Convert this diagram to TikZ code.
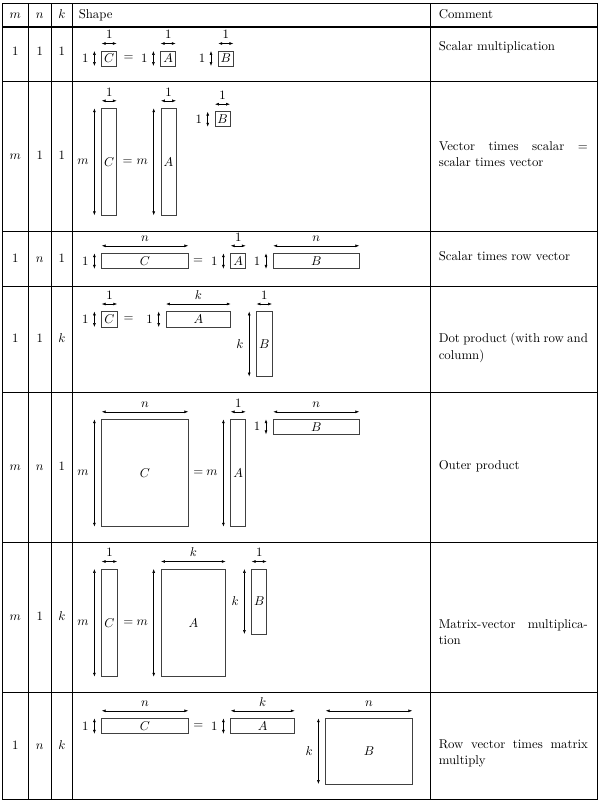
\documentclass[tikz,border=0pt]{standalone}
\usetikzlibrary{arrows.meta,calc}
\newdimen\pxu \pxu=0.78125pt
\tikzset{
  mbox/.style={draw=black!75, line width=0.5pt, inner sep=0pt, outer sep=0pt, anchor=north west},
  dim/.style={line width=0.4pt, {Latex[length=3pt,width=2.2pt]}-{Latex[length=3pt,width=2.2pt]}},
  thinrule/.style={line width=0.4pt},
  thickrule/.style={line width=1.2pt},
  cell/.style={anchor=base, inner sep=0pt},
  cmt/.style={anchor=base west, inner sep=0pt},
  eqs/.style={inner sep=0pt},
}
\newcommand\matx[6]{\node[mbox, minimum width=#4\pxu, minimum height=#5\pxu] (#1) at (#2,#3) {$#6$};}
\newcommand\hdim[2]{\draw[dim] ($(#1.north west)+(0,-7.5)$) -- node[above] (#1h) {$#2$} ($(#1.north east)+(0,-7.5)$);}
\newcommand\vdim[2]{\draw[dim] ($(#1.north west)+(-7.3,0)$) -- node[left=1pt] (#1v) {$#2$} ($(#1.south west)+(-7.3,0)$);}
\newcommand\cw{116.5pt}
\begin{document}
\begin{tikzpicture}[x=0.78125pt, y=-0.78125pt]
\useasboundingbox (0,0) rectangle (600,803);
% ---------- table rules ----------
\draw[thinrule] (2,3) rectangle (597,799.5);
\draw[thinrule] (28.7,3) -- (28.7,799.5);
\draw[thinrule] (50.9,3) -- (50.9,799.5);
\draw[thickrule] (72.7,3) -- (72.7,799.5);
\draw[thickrule] (430.5,3) -- (430.5,799.5);
\draw[thickrule] (2,26.8) -- (597,26.8);
\foreach \yy in {81.3,231.3,286,392.5,542,692}
  \draw[thinrule] (2,\yy) -- (597,\yy);
% ---------- header ----------
\node[cell] (hm) at (15.3,18.5) {$m$};
\node[cell] (hn) at (39.8,18.5) {$n$};
\node[cell] (hk) at (61.8,18.5) {$k$};
\node[cmt] (hs) at (78.5,18.5) {Shape};
\node[cmt] (hc) at (438.5,18.5) {Comment};
% ---------- row labels ----------
\node[cell] (r1m) at (15.3,55) {$1$};
\node[cell] (r1n) at (39.8,55) {$1$};
\node[cell] (r1k) at (61.8,55) {$1$};
\node[cell] (r2m) at (15.3,159.5) {$m$};
\node[cell] (r2n) at (39.8,159.5) {$1$};
\node[cell] (r2k) at (61.8,159.5) {$1$};
\node[cell] (r3m) at (15.3,262) {$1$};
\node[cell] (r3n) at (39.8,262) {$n$};
\node[cell] (r3k) at (61.8,262) {$1$};
\node[cell] (r4m) at (15.3,342.5) {$1$};
\node[cell] (r4n) at (39.8,342.5) {$1$};
\node[cell] (r4k) at (61.8,342.5) {$k$};
\node[cell] (r5m) at (15.3,470.5) {$m$};
\node[cell] (r5n) at (39.8,470.5) {$n$};
\node[cell] (r5k) at (61.8,470.5) {$1$};
\node[cell] (r6m) at (15.3,620.5) {$m$};
\node[cell] (r6n) at (39.8,620.5) {$1$};
\node[cell] (r6k) at (61.8,620.5) {$k$};
\node[cell] (r7m) at (15.3,749) {$1$};
\node[cell] (r7n) at (39.8,749) {$n$};
\node[cell] (r7k) at (61.8,749) {$k$};
% ---------- comments ----------
\node[cmt] (c1) at (438.5,50.5) {Scalar multiplication};
\node[cmt] (c2a) at (438.5,150) {\makebox[\cw][s]{Vector times scalar =}};
\node[cmt] (c2b) at (438.5,166.8) {scalar times vector};
\node[cmt] (c3) at (438.5,260.5) {Scalar times row vector};
\node[cmt] (c4a) at (438.5,342.5) {\makebox[\cw][s]{Dot product (with row and}};
\node[cmt] (c4b) at (438.5,359.3) {column)};
\node[cmt] (c5) at (438.5,469.5) {Outer product};
\node[cmt] (c6a) at (438.5,628) {\makebox[\cw][s]{Matrix-vector multiplica-}};
\node[cmt] (c6b) at (438.5,644.8) {tion};
\node[cmt] (c7a) at (438.5,748) {\makebox[\cw][s]{Row vector times matrix}};
\node[cmt] (c7b) at (438.5,764.8) {multiply};
% ---------- row 1 : 1 1 1 ----------
\matx{Ca}{101.7}{51}{15}{15}{C} \hdim{Ca}{1} \vdim{Ca}{1}
\node[eqs] (ea) at (128.5,58.5) {$=$};
\matx{Aa}{160.7}{51}{15}{15}{A} \hdim{Aa}{1} \vdim{Aa}{1}
\matx{Ba}{218.3}{51}{15}{15}{B} \hdim{Ba}{1} \vdim{Ba}{1}
% ---------- row 2 : m 1 1 ----------
\matx{Cb}{101.7}{108.3}{15}{107}{C} \hdim{Cb}{1} \vdim{Cb}{m}
\node[eqs] (eb) at (127.7,161.8) {$=$};
\matx{Ab}{161}{108.3}{15}{107}{A} \hdim{Ab}{1} \vdim{Ab}{m}
\matx{Bb}{215}{111.7}{15}{15}{B} \hdim{Bb}{1} \vdim{Bb}{1}
% ---------- row 3 : 1 n 1 ----------
\matx{Cc}{101.7}{253.3}{86.6}{15.5}{C} \hdim{Cc}{n} \vdim{Cc}{1}
\node[eqs] (ec) at (198,261) {$=$};
\matx{Ac}{230.7}{253.3}{15}{15.5}{A} \hdim{Ac}{1} \vdim{Ac}{1}
\matx{Bc}{273.3}{253.3}{86}{15.5}{B} \hdim{Bc}{n} \vdim{Bc}{1}
% ---------- row 4 : 1 1 k ----------
\matx{Cd}{101.7}{311.5}{15.5}{15.5}{C} \hdim{Cd}{1} \vdim{Cd}{1}
\node[eqs] (ed) at (128.5,319.2) {$=$};
\matx{Ad}{166}{311.5}{64.7}{15.5}{A} \hdim{Ad}{k} \vdim{Ad}{1}
\matx{Bd}{256.5}{311.5}{15.5}{65}{B} \hdim{Bd}{1} \vdim{Bd}{k}
% ---------- row 5 : m n 1 ----------
\matx{Ce}{101.7}{419.3}{86.6}{107.4}{C} \hdim{Ce}{n} \vdim{Ce}{m}
\node[eqs] (ee) at (198.3,473) {$=$};
\matx{Ae}{230.7}{419.3}{15}{107.4}{A} \hdim{Ae}{1} \vdim{Ae}{m}
\matx{Be}{273.3}{419.3}{86}{15}{B} \hdim{Be}{n} \vdim{Be}{1}
% ---------- row 6 : m 1 k ----------
\matx{Cf}{101.7}{569}{15.5}{107.7}{C} \hdim{Cf}{1} \vdim{Cf}{m}
\node[eqs] (ef) at (128.3,622.8) {$=$};
\matx{Af}{161}{569}{64.7}{107.7}{A} \hdim{Af}{k} \vdim{Af}{m}
\matx{Bf}{251.7}{569}{15}{65}{B} \hdim{Bf}{1} \vdim{Bf}{k}
% ---------- row 7 : 1 n k ----------
\matx{Cg}{101.7}{718.3}{86.6}{15.5}{C} \hdim{Cg}{n} \vdim{Cg}{1}
\node[eqs] (eg) at (198.3,726) {$=$};
\matx{Ag}{230.7}{718.3}{64}{15.5}{A} \hdim{Ag}{k} \vdim{Ag}{1}
\matx{Bg}{325.7}{718.3}{86.6}{65.7}{B} \hdim{Bg}{n} \vdim{Bg}{k}
\end{tikzpicture}
\end{document}
